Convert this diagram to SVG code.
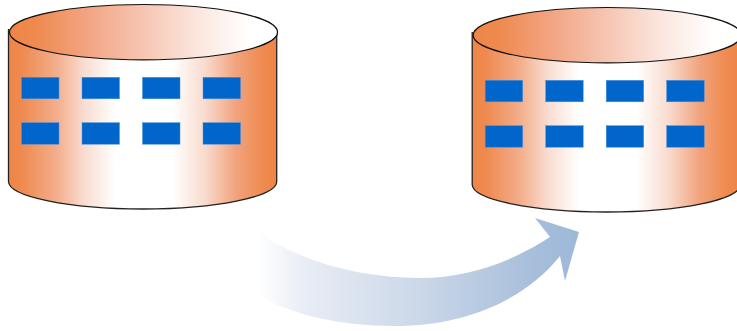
<svg xmlns="http://www.w3.org/2000/svg" width="737" height="331" viewBox="0 0 737 331">
<defs>
<linearGradient id="body" x1="0" y1="0" x2="1" y2="0">
<stop offset="0" stop-color="#ee8546"/><stop offset="0.05" stop-color="#ef8a4f"/><stop offset="0.18" stop-color="#f3ae8c"/><stop offset="0.28" stop-color="#f9dccf"/><stop offset="0.4" stop-color="#ffffff"/><stop offset="0.61" stop-color="#ffffff"/><stop offset="0.73" stop-color="#f9dccf"/><stop offset="0.85" stop-color="#f1a27c"/><stop offset="0.95" stop-color="#ef8a4f"/><stop offset="1" stop-color="#ee8546"/>
</linearGradient>
<linearGradient id="top" x1="0" y1="0" x2="1" y2="0">
<stop offset="0" stop-color="#ee8546"/><stop offset="0.1" stop-color="#ef8a50"/><stop offset="0.3" stop-color="#f2a685"/><stop offset="0.5" stop-color="#f6c6b3"/><stop offset="0.7" stop-color="#fbe6de"/><stop offset="0.9" stop-color="#ffffff"/><stop offset="1" stop-color="#ffffff"/>
</linearGradient>
<linearGradient id="arrow" gradientUnits="userSpaceOnUse" x1="258" y1="0" x2="579" y2="0">
<stop offset="0" stop-color="#ffffff"/><stop offset="0.14" stop-color="#e9edf5"/><stop offset="0.5" stop-color="#cbd8e9"/><stop offset="0.85" stop-color="#a8bfdb"/><stop offset="1" stop-color="#9db8d8"/>
</linearGradient>
<g id="cyl">
<path class="body" d="M8.500 29V181.500C8.500 196.500 69 209 143 209S276.700 196.500 276.700 181.500V29Z"/>
<path class="edge" d="M8.500 29V181.500C8.500 196.500 69 209 143 209S276.700 196.500 276.700 181.500V32"/>
<ellipse class="lid" cx="143.500" cy="32.200" rx="134" ry="27.700"/>
<g class="win">
<rect x="21.500" y="77.300" width="37.500" height="21.500"/><rect x="82" y="77.300" width="37.500" height="21.500"/><rect x="142.500" y="77.300" width="37.500" height="21.500"/><rect x="203" y="77.300" width="37.500" height="21.500"/>
<rect x="21.500" y="122.700" width="37.500" height="21.500"/><rect x="82" y="122.700" width="37.500" height="21.500"/><rect x="142.500" y="122.700" width="37.500" height="21.500"/><rect x="203" y="122.700" width="37.500" height="21.500"/>
</g>
</g>
</defs>
<style>
.body{fill:url(#body)}
.edge{fill:none;stroke:#222;stroke-width:1.300}
.lid{fill:url(#top);stroke:#111;stroke-width:1.200}
.win rect{fill:#0066cc;stroke:#4a90dc;stroke-width:0.500}
</style>
<rect width="737" height="331" fill="#ffffff"/>
<g id="cylinder-left"><use href="#cyl"/></g>
<g id="cylinder-right"><use href="#cyl" x="463.700" y="3"/></g>
<g id="connectors">
<path d="M258 232C300 262 362 278 420 278C470 278 515 260 550 237L535 218L579 232L565 281L560 256C525 300 465 326 395 326C340 326 292 315 258 295Z" fill="url(#arrow)"/>
</g>
</svg>
